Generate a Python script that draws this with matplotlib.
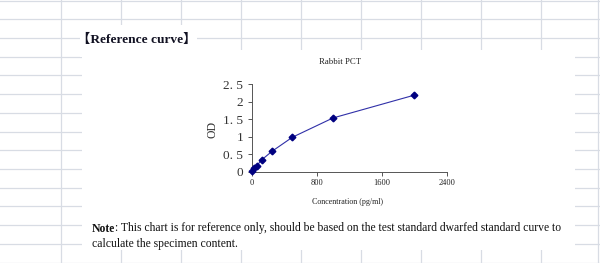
import matplotlib
matplotlib.use("Agg")
import matplotlib.pyplot as plt
from matplotlib.patches import Rectangle

# standard curve values
conc = [0, 31.25, 62.5, 125, 250, 500, 1000, 2000]
od = [0.03, 0.10, 0.18, 0.35, 0.59, 0.99, 1.54, 2.19]

x_ticks = [0, 800, 1600, 2400]
x_tick_labels = ["0", "800", "1600", "2400"]
y_ticks = [0, 0.5, 1, 1.5, 2, 2.5]
y_tick_labels = ["0", "0. 5", "1", "1. 5", "2", "2. 5"]

chart_title = "Rabbit PCT"
x_label = "Concentration (pg/ml)"
y_label = "OD"
header = "【Reference curve】"
note_bold = "Note"
note_line1 = ": This chart is for reference only, should be based on the test standard dwarfed standard curve to"
note_line2 = "calculate the specimen content."

SERIF = ["Liberation Serif", "DejaVu Serif"]
GRID = "#d8dce4"

fig = plt.figure(figsize=(6.0, 2.63), dpi=100)
fig.patch.set_facecolor("white")

# spreadsheet background, in pixel units
bg = fig.add_axes([0, 0, 1, 1])
bg.set_xlim(0, 600)
bg.set_ylim(263, 0)
bg.axis("off")

for k in range(10):
    xv = 60.5 + 60 * k if k < 9 else 598.3
    bg.axvline(xv, color=GRID, lw=0.9)
for k in range(15):
    bg.axhline(0.5 + 18.72 * k, color=GRID, lw=0.9)

# pasted picture areas cover the grid
bg.add_patch(Rectangle((82, 50), 493, 200, facecolor="white", edgecolor="none", zorder=3))
bg.add_patch(Rectangle((80, 25), 117, 32, facecolor="white", edgecolor="none", zorder=3))

bg.text(77, 40, header, family=["Liberation Serif", "Noto Sans CJK SC"], fontweight="bold",
        fontsize=9.6, color="#111122", va="center", ha="left", zorder=4)

t1 = bg.text(91.7, 228.5, note_bold, family=SERIF, fontweight="bold", fontsize=8.4,
             color="#111111", va="center", ha="left", zorder=4)
fig.canvas.draw()
ext = t1.get_window_extent()
bg.text(ext.x1, 228.5, note_line1, family=SERIF, fontsize=8.4, color="#111111",
        va="center", ha="left", zorder=4)
bg.text(91.7, 244, note_line2, family=SERIF, fontsize=8.4, color="#111111",
        va="center", ha="left", zorder=4)

bg.text(340, 62, chart_title, family=SERIF, fontsize=6.3, color="#222222",
        ha="center", va="center", zorder=4)
bg.text(347.5, 202, x_label, family=SERIF, fontsize=5.8, color="#222222",
        ha="center", va="center", zorder=4)
bg.text(213, 129, y_label, family=SERIF, fontsize=8.5, color="#333333",
        ha="center", va="center", rotation=90, zorder=4)

# the chart itself
ax = fig.add_axes([251.7 / 600, (263 - 172) / 263, 195 / 600, 87.7 / 263])
ax.set_facecolor("none")
ax.plot(conc, od, color="#3030a8", lw=0.8, zorder=2)
ax.plot(conc, od, ls="none", marker="D", ms=3.4, color="#000080", zorder=3, clip_on=False)

ax.set_xlim(0, 2400)
ax.set_ylim(0, 2.5)
ax.set_xticks(x_ticks)
ax.set_xticklabels(x_tick_labels, family=SERIF, fontsize=6, color="#222222")
ax.set_yticks(y_ticks)
ax.set_yticklabels(y_tick_labels, family=SERIF, fontsize=9.5, color="#333333")
ax.tick_params(direction="out", length=3, width=0.7, color="#555555")
ax.tick_params(axis="x", pad=2)
ax.tick_params(axis="y", pad=3)
for s in ["top", "right"]:
    ax.spines[s].set_visible(False)
for s in ["left", "bottom"]:
    ax.spines[s].set_color("#555555")
    ax.spines[s].set_linewidth(0.7)

fig.savefig("out.png", dpi=100)
